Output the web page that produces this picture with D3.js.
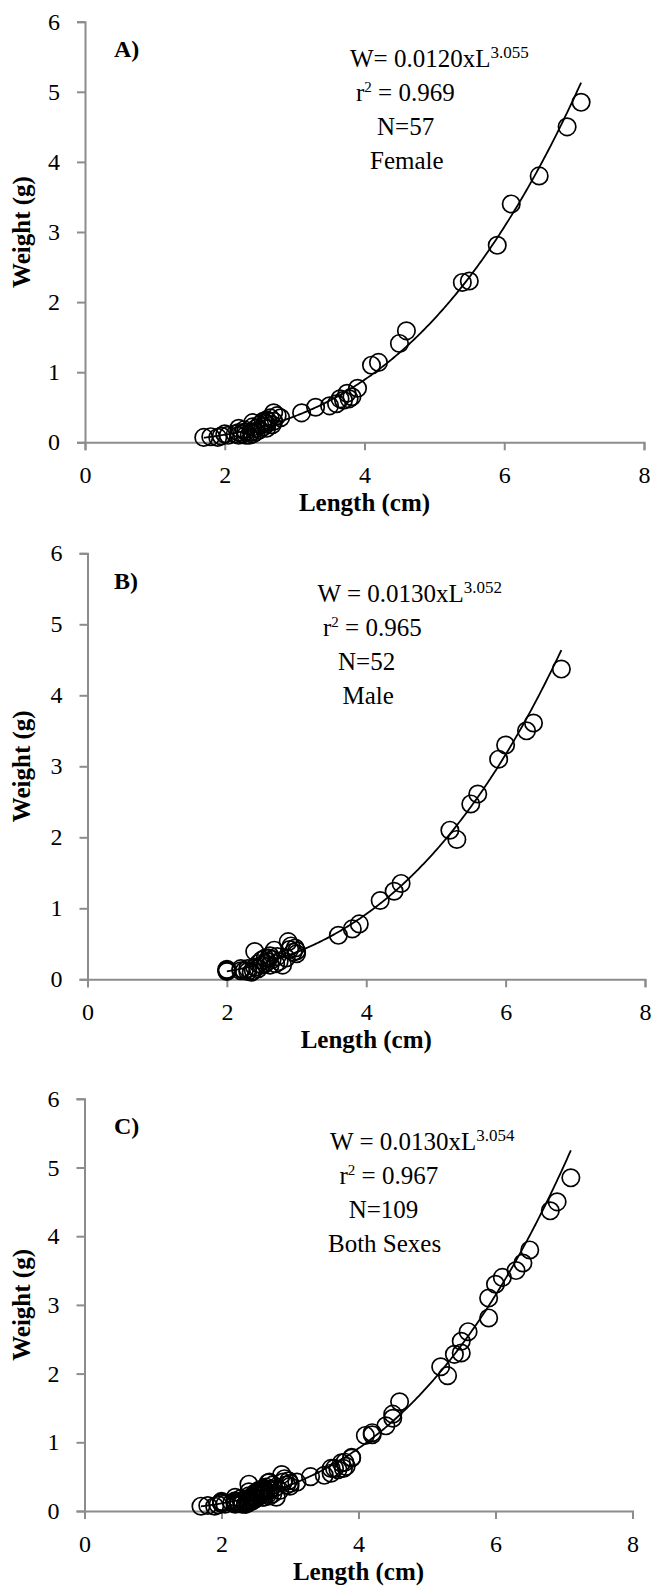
<!DOCTYPE html>
<html lang="en">

<head>
    <meta charset="UTF-8">
    <title>Length-weight relationship</title>
    <script src="https://d3js.org/d3.v7.min.js"></script>
    <style>
        body { margin: 0; background: #fff; }
        svg text { font-family: "Liberation Serif", "Times New Roman", serif; fill: #000; }
    </style>
</head>

<body>
    <svg id="chart" width="651" height="1589"></svg>

    <script>
        // Data (length in cm, weight in g)
        const femaleLength = [7.1, 6.9, 6.5, 6.1, 5.9, 5.4, 5.5, 4.6, 4.5, 4.2, 4.1,
            3.9, 3.82, 3.75, 3.7, 3.65, 3.6, 3.5, 3.3, 3.1, 2.8, 2.75, 2.7, 2.7, 2.65,
            2.6, 2.6, 2.6, 2.58, 2.55, 2.5, 2.5, 2.45, 2.4, 2.4, 2.4, 2.38, 2.35, 2.3,
            2.3, 2.25, 2.2, 2.2, 2.2, 2.15, 2.0, 1.95, 1.9, 1.8, 1.7, 2.62, 2.68, 2.45,
            2.28, 2.05, 3.78, 2.55];
        const femaleWeight = [4.85, 4.5, 3.8, 3.4, 2.81, 2.28, 2.3, 1.59, 1.41, 1.14, 1.1,
            0.77, 0.65, 0.7, 0.6, 0.62, 0.55, 0.52, 0.5, 0.42, 0.35, 0.38, 0.42, 0.3, 0.35,
            0.32, 0.26, 0.2, 0.28, 0.22, 0.25, 0.18, 0.2, 0.28, 0.22, 0.12, 0.15, 0.1, 0.15,
            0.1, 0.12, 0.2, 0.14, 0.1, 0.12, 0.12, 0.09, 0.07, 0.08, 0.07, 0.3, 0.25, 0.15,
            0.18, 0.1, 0.62, 0.3];

        const maleLength = [6.8, 6.4, 6.3, 6.0, 5.9, 5.6, 5.5, 5.2, 5.3, 4.5, 4.4, 4.2,
            3.9, 3.8, 3.6, 3.0, 3.0, 2.98, 2.95, 2.9, 2.88, 2.85, 2.8, 2.75, 2.7, 2.68,
            2.65, 2.62, 2.6, 2.58, 2.55, 2.5, 2.5, 2.45, 2.4, 2.4, 2.38, 2.35, 2.3, 2.3,
            2.25, 2.2, 2.2, 2.0, 2.0, 2.0, 2.0, 2.62, 2.72, 2.92, 2.55, 2.45];
        const maleWeight = [4.37, 3.61, 3.5, 3.3, 3.1, 2.61, 2.47, 2.1, 1.97, 1.35, 1.24, 1.11,
            0.78, 0.71, 0.62, 0.4, 0.36, 0.44, 0.38, 0.42, 0.53, 0.3, 0.2, 0.25, 0.22, 0.41,
            0.28, 0.2, 0.3, 0.25, 0.22, 0.27, 0.2, 0.15, 0.39, 0.17, 0.12, 0.1, 0.11, 0.15,
            0.12, 0.15, 0.12, 0.13, 0.12, 0.11, 0.14, 0.33, 0.32, 0.47, 0.3, 0.22];

        // Panel C pools both sexes
        const bothLength = femaleLength.concat(maleLength);
        const bothWeight = femaleWeight.concat(maleWeight);

        const xTicks = [0, 2, 4, 6, 8];
        const yTicks = [0, 1, 2, 3, 4, 5, 6];

        const panelLabels = ["A)", "B)", "C)"];
        const eqText = ["W= 0.0120xL", "W = 0.0130xL", "W = 0.0130xL"];
        const eqExponent = ["3.055", "3.052", "3.054"];
        const rSquared = ["0.969", "0.965", "0.967"];
        const sampleSize = ["N=57", "N=52", "N=109"];
        const groupName = ["Female", "Male", "Both Sexes"];

        // trend curve W = a * L^b as drawn in each panel
        const fitA = [0.0130, 0.0134, 0.0133];
        const fitB = [3.05, 3.05, 3.05];
        const fitFrom = [1.7, 2.0, 1.7];
        const fitTo = [7.1, 6.8, 7.1];

        const series = [
            { x: femaleLength, y: femaleWeight },
            { x: maleLength, y: maleWeight },
            { x: bothLength, y: bothWeight }
        ];

        // Layout of the three stacked panels
        const layout = [
            { left: 85, right: 644, top: 21.7, bottom: 442.3, textX: [350, 356, 377, 370], textY: 66.7 },
            { left: 87.5, right: 645, top: 553.3, bottom: 979.3, textX: [317.6, 323, 338, 342.5], textY: 601.7 },
            { left: 84.5, right: 632.5, top: 1098.8, bottom: 1511, textX: [330, 339.5, 348.7, 328], textY: 1150 }
        ];
        const lineGap = 34;
        const axisColor = "#8c8c8c";

        const svg = d3.select("#chart");

        layout.forEach((p, i) => {
            const xScale = d3.scaleLinear().domain([0, 8]).range([p.left, p.right]);
            const yScale = d3.scaleLinear().domain([0, 6]).range([p.bottom, p.top]);

            const g = svg.append("g");

            // y axis
            const yAxis = g.append("g")
                .attr("transform", `translate(${p.left},0)`)
                .call(d3.axisLeft(yScale).tickValues(yTicks).tickSize(8).tickPadding(17).tickFormat(d3.format("d")));

            // x axis
            const xAxis = g.append("g")
                .attr("transform", `translate(0,${p.bottom})`)
                .call(d3.axisBottom(xScale).tickValues(xTicks).tickSize(8).tickFormat(d3.format("d")));

            [xAxis, yAxis].forEach(ax => {
                ax.select(".domain").attr("stroke", axisColor).attr("stroke-width", 2);
                ax.selectAll(".tick line").attr("stroke", axisColor).attr("stroke-width", 2);
                ax.selectAll(".tick text")
                    .style("font-family", '"Liberation Serif", serif')
                    .style("font-size", "24px")
                    .attr("fill", "#000");
            });
            xAxis.selectAll(".tick text").attr("y", 41).attr("dy", null);

            // trend curve
            const curveX = d3.range(fitFrom[i], fitTo[i] + 0.001, 0.02);
            const line = d3.line()
                .x(d => xScale(d))
                .y(d => yScale(fitA[i] * Math.pow(d, fitB[i])));
            g.append("path")
                .datum(curveX)
                .attr("fill", "none")
                .attr("stroke", "#000")
                .attr("stroke-width", 1.8)
                .attr("d", line);

            // points
            const s = series[i];
            g.selectAll("circle")
                .data(d3.range(s.x.length))
                .join("circle")
                .attr("cx", k => xScale(s.x[k]))
                .attr("cy", k => yScale(s.y[k]))
                .attr("r", 8.7)
                .attr("fill", "none")
                .attr("stroke", "#000")
                .attr("stroke-width", 1.7);

            // panel letter
            g.append("text")
                .attr("x", 114)
                .attr("y", p.top + 35.3)
                .style("font-size", "24px")
                .style("font-weight", "bold")
                .text(panelLabels[i]);

            // equation block
            const eq = g.append("text")
                .attr("x", p.textX[0])
                .attr("y", p.textY)
                .style("font-size", "25px");
            eq.append("tspan").text(eqText[i]);
            eq.append("tspan").attr("dy", -9).style("font-size", "17px").text(eqExponent[i]);

            const r2 = g.append("text")
                .attr("x", p.textX[1])
                .attr("y", p.textY + lineGap)
                .style("font-size", "25px");
            r2.append("tspan").text("r");
            r2.append("tspan").attr("dy", -9).style("font-size", "15px").text("2");
            r2.append("tspan").attr("dy", 9).text(" = " + rSquared[i]);

            g.append("text")
                .attr("x", p.textX[2])
                .attr("y", p.textY + lineGap * 2)
                .style("font-size", "25px")
                .text(sampleSize[i]);

            g.append("text")
                .attr("x", p.textX[3])
                .attr("y", p.textY + lineGap * 3)
                .style("font-size", "25px")
                .text(groupName[i]);

            // axis titles
            g.append("text")
                .attr("x", (p.left + p.right) / 2)
                .attr("y", p.bottom + 69)
                .attr("text-anchor", "middle")
                .style("font-size", "25px")
                .style("font-weight", "bold")
                .text("Length (cm)");

            g.append("text")
                .attr("transform", `translate(30,${(p.top + p.bottom) / 2}) rotate(-90)`)
                .attr("text-anchor", "middle")
                .style("font-size", "25px")
                .style("font-weight", "bold")
                .text("Weight (g)");
        });
    </script>
</body>

</html>
